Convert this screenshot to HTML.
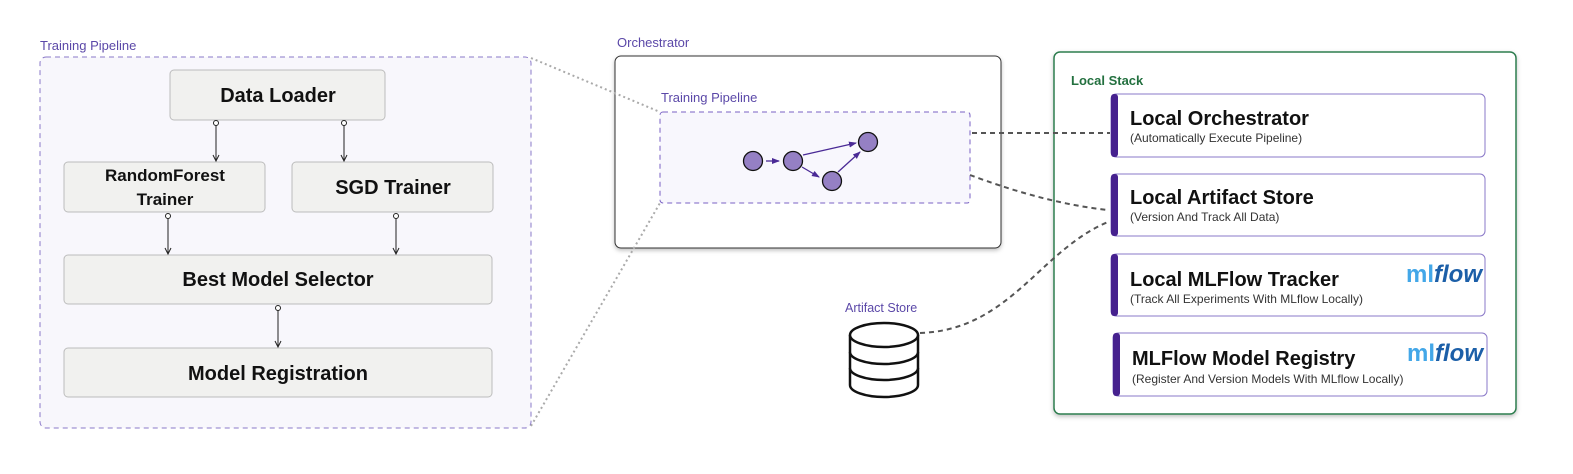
<!DOCTYPE html>
<html><head><meta charset="utf-8"><style>
html,body{margin:0;padding:0;background:#fff;}
svg{display:block;font-family:"Liberation Sans",sans-serif;}
</style></head><body>
<svg width="1573" height="474" viewBox="0 0 1573 474" xmlns="http://www.w3.org/2000/svg">
<defs>
<marker id="ar" markerWidth="8" markerHeight="8" refX="7" refY="4" orient="auto" markerUnits="userSpaceOnUse"><path d="M1,1 L7,4 L1,7" fill="none" stroke="#222" stroke-width="1"/></marker>
<marker id="pa" markerWidth="8" markerHeight="8" refX="7" refY="4" orient="auto" markerUnits="userSpaceOnUse"><path d="M0,1 L8,4 L0,7 Z" fill="#4a2a96"/></marker>
<filter id="sh" x="-5%" y="-5%" width="110%" height="115%"><feDropShadow dx="0" dy="2" stdDeviation="2" flood-opacity="0.25"/></filter>
</defs>

<!-- Left training pipeline -->
<text x="40" y="50" font-size="13" fill="#5b48a8">Training Pipeline</text>
<rect x="40" y="57" width="491" height="371" rx="6" fill="#f8f7fc" stroke="#8a78c8" stroke-dasharray="5,4"/>
<g fill="#f1f1ef" stroke="#bcbcbc">
<rect x="170" y="70" width="215" height="50" rx="4"/>
<rect x="64" y="162" width="201" height="50" rx="4"/>
<rect x="292" y="162" width="201" height="50" rx="4"/>
<rect x="64" y="255" width="428" height="49" rx="4"/>
<rect x="64" y="348" width="428" height="49" rx="4"/>
</g>
<g font-weight="bold" fill="#111" text-anchor="middle">
<text x="278" y="102" font-size="20">Data Loader</text>
<text x="165" y="181" font-size="17">RandomForest</text>
<text x="165" y="205" font-size="17">Trainer</text>
<text x="393" y="194" font-size="20">SGD Trainer</text>
<text x="278" y="286" font-size="20">Best Model Selector</text>
<text x="278" y="380" font-size="20">Model Registration</text>
</g>
<g stroke="#222" stroke-width="1" fill="#fff">
<line x1="216" y1="125" x2="216" y2="161" marker-end="url(#ar)"/><circle cx="216" cy="123" r="2.5"/>
<line x1="344" y1="125" x2="344" y2="161" marker-end="url(#ar)"/><circle cx="344" cy="123" r="2.5"/>
<line x1="168" y1="218" x2="168" y2="254" marker-end="url(#ar)"/><circle cx="168" cy="216" r="2.5"/>
<line x1="396" y1="218" x2="396" y2="254" marker-end="url(#ar)"/><circle cx="396" cy="216" r="2.5"/>
<line x1="278" y1="310" x2="278" y2="347" marker-end="url(#ar)"/><circle cx="278" cy="308" r="2.5"/>
</g>

<!-- Orchestrator -->
<text x="617" y="47" font-size="13" fill="#5b48a8">Orchestrator</text>
<rect x="615" y="56" width="386" height="192" rx="6" fill="#fff" stroke="#333" filter="url(#sh)"/>
<text x="661" y="102" font-size="13" fill="#5b48a8">Training Pipeline</text>
<rect x="660" y="112" width="310" height="91" rx="3" fill="#f8f7fd" stroke="#7a62c4" stroke-dasharray="5,4"/>
<g stroke="#4a2a96" stroke-width="1.3">
<line x1="766" y1="161" x2="779" y2="161" marker-end="url(#pa)"/>
<line x1="803" y1="155" x2="856" y2="143" marker-end="url(#pa)"/>
<line x1="802" y1="167" x2="819" y2="177" marker-end="url(#pa)"/>
<line x1="838" y1="172" x2="860" y2="152" marker-end="url(#pa)"/>
</g>
<g fill="#9580c4" stroke="#111" stroke-width="1.3">
<circle cx="753" cy="161" r="9.5"/><circle cx="793" cy="161" r="9.5"/>
<circle cx="832" cy="181" r="9.5"/><circle cx="868" cy="142" r="9.5"/>
</g>

<!-- dotted zoom lines -->
<line x1="531" y1="58" x2="660" y2="112" stroke="#aaa" stroke-width="2" stroke-dasharray="2,3"/>
<line x1="531" y1="426" x2="660" y2="203" stroke="#aaa" stroke-width="2" stroke-dasharray="2,3"/>

<!-- Database -->
<text x="845" y="312" font-size="12.5" fill="#5b48a8">Artifact Store</text>
<g fill="#fff" stroke="#111" stroke-width="2.5">
<path d="M850,335 L850,385 A34,12 0 0 0 918,385 L918,335"/>
<path d="M850,352 A34,12 0 0 0 918,352"/>
<path d="M850,368 A34,12 0 0 0 918,368"/>
<ellipse cx="884" cy="335" rx="34" ry="12"/>
</g>

<!-- Local stack -->
<rect x="1054" y="52" width="462" height="362" rx="6" fill="#fff" stroke="#2e7d4f" stroke-width="1.5" filter="url(#sh)"/>
<text x="1071" y="85" font-size="13" font-weight="bold" fill="#23703f">Local Stack</text>

<!-- dashed connectors -->
<g fill="none" stroke="#555" stroke-width="2" stroke-dasharray="5,4">
<line x1="972" y1="133" x2="1110" y2="133"/>
<path d="M970,175 C1010,190 1060,205 1108,210"/>
<path d="M920,333 C1010,330 1040,250 1108,222"/>
</g>

<g>
<rect x="1111" y="94" width="374" height="63" rx="5" fill="#fff" stroke="#8a78c8"/>
<rect x="1111" y="94" width="7" height="63" rx="3" fill="#46218f"/>
<text x="1130" y="125" font-size="20" font-weight="bold" fill="#111">Local Orchestrator</text>
<text x="1130" y="142" font-size="12" fill="#333">(Automatically Execute Pipeline)</text>

<rect x="1111" y="174" width="374" height="62" rx="5" fill="#fff" stroke="#8a78c8"/>
<rect x="1111" y="174" width="7" height="62" rx="3" fill="#46218f"/>
<text x="1130" y="204" font-size="20" font-weight="bold" fill="#111">Local Artifact Store</text>
<text x="1130" y="221" font-size="12" fill="#333">(Version And Track All Data)</text>

<rect x="1111" y="254" width="374" height="62" rx="5" fill="#fff" stroke="#8a78c8"/>
<rect x="1111" y="254" width="7" height="62" rx="3" fill="#46218f"/>
<text x="1130" y="286" font-size="20" font-weight="bold" fill="#111">Local MLFlow Tracker</text>
<text x="1130" y="303" font-size="12" fill="#333">(Track All Experiments With MLflow Locally)</text>
<text x="1406" y="282" font-size="24" font-weight="bold" fill="#43a7e8">ml<tspan fill="#1c5fa8" font-style="italic">flow</tspan></text>

<rect x="1113" y="333" width="374" height="63" rx="5" fill="#fff" stroke="#8a78c8"/>
<rect x="1113" y="333" width="7" height="63" rx="3" fill="#46218f"/>
<text x="1132" y="365" font-size="20" font-weight="bold" fill="#111">MLFlow Model Registry</text>
<text x="1132" y="383" font-size="12" fill="#333">(Register And Version Models With MLflow Locally)</text>
<text x="1407" y="361" font-size="24" font-weight="bold" fill="#43a7e8">ml<tspan fill="#1c5fa8" font-style="italic">flow</tspan></text>
</g>
</svg>
</body></html>
